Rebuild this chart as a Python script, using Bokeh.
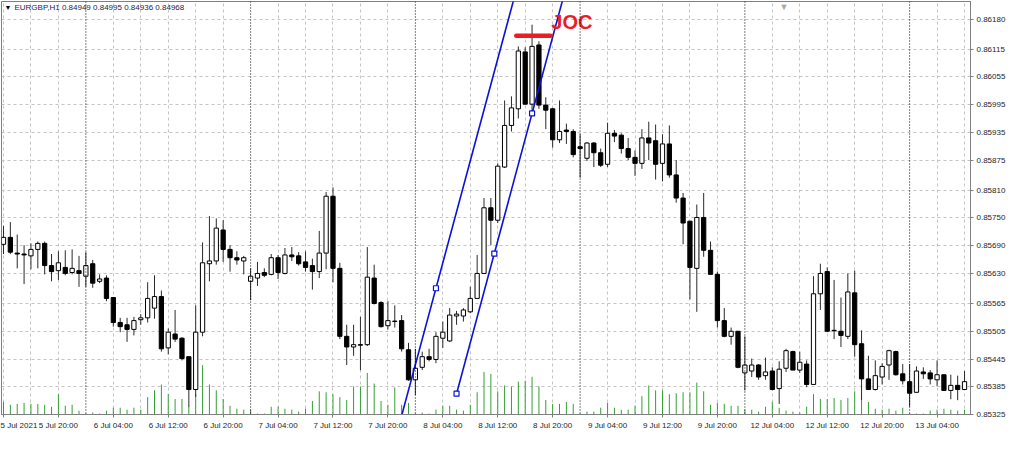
from bokeh.plotting import figure
from bokeh.models import FixedTicker, Range1d, Label, Span, PrintfTickFormatter, ColumnDataSource
from bokeh.embed import file_html
from bokeh.resources import INLINE
from bokeh.core.properties import value

# ---------------- data (EURGBP H1, bar index 0 = 5 Jul 2021 12:00) ----------------
open_ = [
    0.85693, 0.85708, 0.85674, 0.85672, 0.85668, 0.85682, 0.85695, 0.85647, 0.85636, 0.85643,
    0.85632, 0.85636, 0.85624, 0.85651, 0.85613, 0.85620, 0.85578, 0.85524, 0.85519, 0.85509,
    0.85530, 0.85534, 0.85555, 0.85580, 0.85469, 0.85499, 0.85490, 0.85450, 0.85379, 0.85503,
    0.85651, 0.85657, 0.85724, 0.85682, 0.85664, 0.85657, 0.85613, 0.85620, 0.85632, 0.85628,
    0.85664, 0.85630, 0.85670, 0.85668, 0.85655, 0.85647, 0.85634, 0.85674, 0.85797, 0.85641,
    0.85494, 0.85471, 0.85476, 0.85476, 0.85620, 0.85567, 0.85517, 0.85526, 0.85528, 0.85465,
    0.85400, 0.85427, 0.85450, 0.85444, 0.85490, 0.85484, 0.85538, 0.85538, 0.85547, 0.85576,
    0.85630, 0.85772, 0.85745, 0.85860, 0.85950, 0.85986, 0.86109, 0.85996, 0.86124, 0.85994,
    0.85986, 0.85919, 0.85940, 0.85937, 0.85904, 0.85879, 0.85912, 0.85891, 0.85866, 0.85933,
    0.85929, 0.85900, 0.85881, 0.85868, 0.85923, 0.85917, 0.85868, 0.85910, 0.85843, 0.85793,
    0.85743, 0.85641, 0.85751, 0.85680, 0.85628, 0.85528, 0.85494, 0.85505, 0.85415, 0.85419,
    0.85432, 0.85409, 0.85419, 0.85381, 0.85425, 0.85461, 0.85421, 0.85434, 0.85390, 0.85586,
    0.85634, 0.85507, 0.85505, 0.85494, 0.85588, 0.85478, 0.85402, 0.85379, 0.85406, 0.85432,
    0.85461, 0.85413, 0.85396, 0.85373, 0.85417, 0.85415, 0.85400, 0.85411, 0.85377, 0.85388,
    0.85379,
]
high = [
    0.85733, 0.85741, 0.85714, 0.85691, 0.85695, 0.85699, 0.85699, 0.85672, 0.85678, 0.85680,
    0.85682, 0.85668, 0.85676, 0.85659, 0.85628, 0.85626, 0.85578, 0.85534, 0.85534, 0.85536,
    0.85542, 0.85611, 0.85626, 0.85593, 0.85511, 0.85551, 0.85492, 0.85450, 0.85561, 0.85697,
    0.85754, 0.85749, 0.85745, 0.85691, 0.85678, 0.85668, 0.85641, 0.85655, 0.85641, 0.85672,
    0.85670, 0.85685, 0.85687, 0.85676, 0.85678, 0.85662, 0.85722, 0.85806, 0.85816, 0.85653,
    0.85519, 0.85519, 0.85536, 0.85687, 0.85649, 0.85570, 0.85570, 0.85561, 0.85540, 0.85480,
    0.85467, 0.85461, 0.85467, 0.85503, 0.85526, 0.85555, 0.85549, 0.85555, 0.85601, 0.85670,
    0.85793, 0.85793, 0.85868, 0.86004, 0.86013, 0.86121, 0.86119, 0.86168, 0.86132, 0.86011,
    0.85988, 0.86004, 0.85954, 0.85942, 0.85931, 0.85914, 0.85914, 0.85900, 0.85956, 0.85940,
    0.85933, 0.85923, 0.85896, 0.85942, 0.85958, 0.85952, 0.85931, 0.85950, 0.85875, 0.85804,
    0.85743, 0.85779, 0.85804, 0.85699, 0.85634, 0.85555, 0.85513, 0.85505, 0.85494, 0.85446,
    0.85434, 0.85448, 0.85427, 0.85440, 0.85467, 0.85463, 0.85461, 0.85442, 0.85624, 0.85651,
    0.85643, 0.85616, 0.85578, 0.85630, 0.85636, 0.85507, 0.85452, 0.85442, 0.85436, 0.85465,
    0.85463, 0.85434, 0.85434, 0.85429, 0.85427, 0.85421, 0.85442, 0.85411, 0.85411, 0.85409,
    0.85419,
]
low = [
    0.85672, 0.85672, 0.85641, 0.85607, 0.85639, 0.85641, 0.85628, 0.85613, 0.85616, 0.85626,
    0.85628, 0.85601, 0.85601, 0.85599, 0.85609, 0.85570, 0.85515, 0.85503, 0.85482, 0.85496,
    0.85519, 0.85524, 0.85532, 0.85461, 0.85455, 0.85482, 0.85442, 0.85342, 0.85363, 0.85494,
    0.85613, 0.85649, 0.85655, 0.85634, 0.85649, 0.85628, 0.85572, 0.85603, 0.85622, 0.85626,
    0.85618, 0.85628, 0.85657, 0.85647, 0.85634, 0.85595, 0.85620, 0.85639, 0.85611, 0.85488,
    0.85432, 0.85452, 0.85421, 0.85473, 0.85563, 0.85513, 0.85509, 0.85513, 0.85461, 0.85398,
    0.85367, 0.85421, 0.85440, 0.85436, 0.85469, 0.85482, 0.85519, 0.85526, 0.85544, 0.85576,
    0.85630, 0.85691, 0.85739, 0.85858, 0.85937, 0.85965, 0.85996, 0.85979, 0.85986, 0.85942,
    0.85902, 0.85912, 0.85910, 0.85881, 0.85837, 0.85873, 0.85860, 0.85860, 0.85860, 0.85914,
    0.85889, 0.85875, 0.85841, 0.85856, 0.85875, 0.85833, 0.85829, 0.85837, 0.85783, 0.85693,
    0.85574, 0.85547, 0.85666, 0.85628, 0.85513, 0.85492, 0.85476, 0.85425, 0.85377, 0.85406,
    0.85400, 0.85400, 0.85377, 0.85348, 0.85417, 0.85421, 0.85415, 0.85384, 0.85390, 0.85551,
    0.85503, 0.85488, 0.85471, 0.85488, 0.85450, 0.85356, 0.85379, 0.85377, 0.85390, 0.85400,
    0.85409, 0.85390, 0.85342, 0.85373, 0.85402, 0.85390, 0.85386, 0.85377, 0.85358, 0.85356,
    0.85379,
]
close = [
    0.85708, 0.85676, 0.85672, 0.85670, 0.85682, 0.85695, 0.85647, 0.85634, 0.85653, 0.85630,
    0.85641, 0.85630, 0.85647, 0.85609, 0.85618, 0.85576, 0.85524, 0.85515, 0.85509, 0.85528,
    0.85534, 0.85576, 0.85580, 0.85467, 0.85503, 0.85488, 0.85446, 0.85379, 0.85503, 0.85653,
    0.85657, 0.85728, 0.85682, 0.85664, 0.85659, 0.85664, 0.85624, 0.85630, 0.85626, 0.85664,
    0.85632, 0.85670, 0.85666, 0.85651, 0.85643, 0.85634, 0.85674, 0.85797, 0.85641, 0.85494,
    0.85471, 0.85476, 0.85475, 0.85622, 0.85565, 0.85515, 0.85528, 0.85527, 0.85467, 0.85400,
    0.85425, 0.85450, 0.85444, 0.85494, 0.85503, 0.85540, 0.85542, 0.85551, 0.85576, 0.85630,
    0.85772, 0.85745, 0.85862, 0.85950, 0.85988, 0.86111, 0.85996, 0.86121, 0.85994, 0.85983,
    0.85919, 0.85937, 0.85937, 0.85887, 0.85900, 0.85912, 0.85891, 0.85864, 0.85933, 0.85927,
    0.85900, 0.85881, 0.85868, 0.85923, 0.85912, 0.85866, 0.85910, 0.85843, 0.85793, 0.85739,
    0.85643, 0.85751, 0.85680, 0.85628, 0.85528, 0.85494, 0.85505, 0.85427, 0.85432, 0.85432,
    0.85406, 0.85417, 0.85379, 0.85423, 0.85463, 0.85421, 0.85438, 0.85390, 0.85586, 0.85630,
    0.85505, 0.85506, 0.85496, 0.85590, 0.85476, 0.85402, 0.85379, 0.85409, 0.85429, 0.85463,
    0.85411, 0.85398, 0.85371, 0.85419, 0.85413, 0.85402, 0.85411, 0.85377, 0.85388, 0.85379,
    0.85396,
]
tick_volume = [
    13, 10, 11, 12, 11, 11, 10, 8, 21, 9, 10, 4, 1, 2, 1, 4, 7, 7, 5,
    7, 5, 18, 25, 31, 21, 16, 16, 9, 21, 51, 31, 25, 16, 9, 6, 5, 5,
    1, 1, 8, 8, 6, 5, 3, 6, 14, 24, 23, 21, 18, 15, 29, 29, 43, 32,
    14, 10, 28, 10, 12, 1, 2, 1, 5, 9, 9, 5, 4, 10, 23, 44, 42,
    24, 30, 29, 34, 35, 39, 29, 15, 11, 11, 13, 11, 1, 3, 3,
    7, 12, 7, 5, 5, 9, 19, 30, 25, 25, 21, 22, 23, 23, 33, 24, 10, 12,
    11, 9, 9, 5, 5, 3, 8, 13, 7, 4, 3, 2, 8, 21, 16, 16,
    17, 15, 17, 24, 16, 13, 6, 5, 6, 4, 7, 1, 1, 1, 4, 5, 6, 5, 4, 5,
]

time_tick_bars = [0, 8, 16, 24, 32, 40, 48, 56, 64, 72, 80, 88, 96, 104, 112, 120, 128, 136]
time_tick_labels = ["5 Jul 2021", "5 Jul 20:00", "6 Jul 04:00", "6 Jul 12:00", "6 Jul 20:00",
                    "7 Jul 04:00", "7 Jul 12:00", "7 Jul 20:00", "8 Jul 04:00", "8 Jul 12:00",
                    "8 Jul 20:00", "9 Jul 04:00", "9 Jul 12:00", "9 Jul 20:00", "12 Jul 04:00",
                    "12 Jul 12:00", "12 Jul 20:00", "13 Jul 04:00"]
day_start_bars = [12, 36, 60, 84, 108, 132]
price_ticks = [0.86180, 0.86115, 0.86055, 0.85995, 0.85935, 0.85875, 0.85810, 0.85750,
               0.85690, 0.85630, 0.85565, 0.85505, 0.85445, 0.85385, 0.85325]

# equidistant channel anchors (bar index, price)
channel_bars = [66, 77]
channel_prices = [0.85370, 0.85976]
channel_third_bar = 63
channel_third_price = 0.85598

# JOC annotation
joc_bars = [74.7, 79.7]
joc_price = 0.86144

title_text = "EURGBP,H1  0.84949 0.84995 0.84936 0.84968"

# ---------------- figure ----------------
FONT = "Liberation Sans"
p = figure(width=1008, height=432, output_backend="svg", toolbar_location=None,
           x_range=Range1d(-0.29, 140.87), y_range=Range1d(0.85325, 0.86218),
           y_axis_location="right", min_border_left=1, min_border_top=1,
           min_border_right=0, min_border_bottom=0)
p.background_fill_color = "white"
p.border_fill_color = "white"
p.outline_line_color = "#808080"

# grid
p.ygrid.ticker = FixedTicker(ticks=price_ticks)
p.ygrid.grid_line_color = "#c4c4c4"
p.ygrid.grid_line_dash = "3 3"
grid_bars = [b for b in range(0, len(open_), 4) if b not in day_start_bars]
p.xgrid.ticker = FixedTicker(ticks=grid_bars)
p.xgrid.grid_line_color = "#c4c4c4"
p.xgrid.grid_line_dash = "3 3"
for b in day_start_bars:
    p.add_layout(Span(location=b, dimension="height", line_color="#000000",
                      line_dash="1 2", line_width=1))

# axes
p.yaxis.ticker = FixedTicker(ticks=price_ticks)
p.yaxis.formatter = PrintfTickFormatter(format="%.5f")
p.xaxis.ticker = FixedTicker(ticks=time_tick_bars)
p.xaxis.major_label_overrides = {b: s for b, s in zip(time_tick_bars, time_tick_labels)}
for ax in (p.xaxis, p.yaxis):
    ax.axis_line_color = "#808080"
    ax.major_tick_line_color = "#808080"
    ax.major_tick_out = 3
    ax.major_tick_in = 0
    ax.minor_tick_out = 0
    ax.minor_tick_in = 0
    ax.major_label_text_font = FONT
    ax.major_label_text_font_size = "8px"
    ax.major_label_text_color = "#1e1e1e"
p.yaxis.major_label_standoff = 3
p.xaxis.major_label_standoff = 3
p.xaxis.major_label_text_align = "left"

bars = list(range(len(open_)))

# volumes (overlay)
p.extra_y_ranges = {"vol": Range1d(0, 427)}
p.segment(x0=bars, y0=[0] * len(bars), x1=bars, y1=tick_volume, y_range_name="vol",
          line_color="#33a033", line_width=1)

# candles
src = ColumnDataSource(dict(
    x=bars, high=high, low=low,
    top=[max(o, c) for o, c in zip(open_, close)],
    bottom=[min(o, c) for o, c in zip(open_, close)],
    fill=["white" if c > o else "black" for o, c in zip(open_, close)],
))
p.segment(x0="x", y0="low", x1="x", y1="high", source=src, line_color="#2a2a2a", line_width=1)
p.vbar(x="x", width=0.62, top="top", bottom="bottom", fill_color="fill",
       line_color="black", line_width=1, source=src)

# channel
slope = (channel_prices[1] - channel_prices[0]) / (channel_bars[1] - channel_bars[0])
offset = channel_third_price - (channel_prices[0] + slope * (channel_third_bar - channel_bars[0]))
base_x = [channel_bars[0], channel_bars[0] + 20]
base_y = [channel_prices[0] + slope * (x - channel_bars[0]) for x in base_x]
par_x = [channel_bars[0] - 12, channel_bars[0] + 20]
par_y = [channel_prices[0] + slope * (x - channel_bars[0]) + offset for x in par_x]
BLUE = "#0b12d6"
p.line(base_x, base_y, line_color=BLUE, line_width=1.6)
p.line(par_x, par_y, line_color=BLUE, line_width=1.6)
mid_bar = sum(channel_bars) / 2
mid_price = sum(channel_prices) / 2
p.scatter([channel_bars[0], mid_bar, channel_bars[1], channel_third_bar],
          [channel_prices[0], mid_price, channel_prices[1], channel_third_price],
          marker="square", size=5, fill_color="white", line_color=BLUE, line_width=1.2)

# JOC
RED = "#ec1c24"
p.line(joc_bars, [joc_price, joc_price], line_color=RED, line_width=4.5, line_cap="round")
p.text(x=[joc_bars[1] + 0.1], y=[joc_price + 0.00030], text=["JOC"], text_color=RED,
       text_font=value(FONT), text_font_style="bold", text_font_size="20px",
       text_baseline="middle", text_align="left")

# header text
p.add_layout(Label(x=0.15, y=0.86205, text="\u25BC", text_font=FONT, text_font_size="7px",
                   text_color="black", text_baseline="middle"))
p.add_layout(Label(x=1.6, y=0.86205, text=title_text, text_font=FONT, text_font_size="8px",
                   text_color="#1c1c4a", text_baseline="middle"))
p.add_layout(Label(x=113.7, y=0.86218, text="\u25BC", text_font=FONT, text_font_size="9px",
                   text_color="#a8a8a8", text_baseline="top", text_align="center"))

open("out.html", "w").write(file_html(p, INLINE))
